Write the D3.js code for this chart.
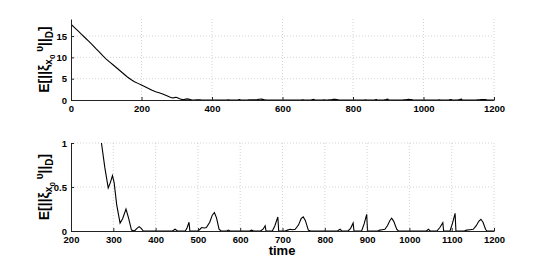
<!DOCTYPE html>
<html>
<head>
<meta charset="utf-8">
<script src="https://cdn.jsdelivr.net/npm/d3@7"></script>
<style>
  body { margin: 0; background: #fff; }
  svg { display: block; }
  .tick text { font-family: "Liberation Sans", Arial, sans-serif; font-weight: bold; font-size: 9.5px; fill: #000; }
  .grid line { stroke: #c8c8c8; stroke-width: 0.8; stroke-dasharray: 1,2; }
  .axis path, .axis line { stroke: #222; }
  .lbl { font-family: "Liberation Sans", Arial, sans-serif; font-weight: bold; fill: #000; }
</style>
</head>
<body>
<svg id="chart" width="545" height="261"></svg>
<script>
// time samples and expected norm values
var time = [0, 10, 20, 30, 40, 50, 60, 70, 80, 90, 100, 110, 120, 130, 140, 150, 160, 170, 180, 190,
  200, 210, 220, 230, 240, 250, 260, 265, 272, 280, 288, 293, 298, 302, 308, 316, 322, 330, 336, 343,
  350, 356, 361, 366, 371, 440, 446, 452, 470, 474, 479, 481, 500, 505, 509, 515, 520, 528, 534, 539,
  544, 550, 555, 568, 572, 576, 622, 627, 632, 648, 654, 659, 661, 676, 682, 689, 691, 706, 712, 718,
  724, 730, 738, 744, 749, 754, 761, 766, 830, 836, 840, 855, 861, 867, 869, 887, 893, 899, 901, 925,
  930, 936, 942, 948, 954, 958, 963, 970, 974, 1040, 1045, 1049, 1065, 1072, 1079, 1081, 1096, 1102, 1108, 1110,
  1130, 1135, 1143, 1151, 1158, 1164, 1169, 1174, 1180, 1183, 1200];
var value = [17.8, 17.0, 16.2, 15.4, 14.6, 13.8, 13.0, 12.1, 11.3, 10.4, 9.6, 8.9, 8.2, 7.5, 6.8, 6.1, 5.4, 4.8, 4.3, 3.9,
  3.5, 3.1, 2.7, 2.3, 1.95, 1.7, 1.4, 1.25, 1.0, 0.72, 0.49, 0.55, 0.63, 0.55, 0.3, 0.09, 0.14, 0.25, 0.15, 0.01,
  0.0, 0.03, 0.05, 0.03, 0.0, 0.0, 0.02, 0.0, 0.0, 0.03, 0.1, 0.0, 0.0, 0.02, 0.04, 0.035, 0.04, 0.1, 0.18, 0.21,
  0.15, 0.02, 0.0, 0.0, 0.01, 0.0, 0.0, 0.01, 0.0, 0.0, 0.02, 0.06, 0.0, 0.0, 0.06, 0.16, 0.0, 0.0, 0.01, 0.02,
  0.015, 0.02, 0.07, 0.14, 0.16, 0.12, 0.01, 0.0, 0.0, 0.02, 0.0, 0.0, 0.03, 0.09, 0.0, 0.0, 0.08, 0.19, 0.0, 0.0,
  0.01, 0.015, 0.02, 0.06, 0.12, 0.145, 0.11, 0.02, 0.0, 0.0, 0.02, 0.0, 0.0, 0.04, 0.095, 0.0, 0.0, 0.09, 0.2, 0.0,
  0.0, 0.01, 0.015, 0.02, 0.06, 0.11, 0.133, 0.1, 0.02, 0.0, 0.0];

var topXTicks = [0, 200, 400, 600, 800, 1000, 1200];
var topYTicks = [0, 5, 10, 15];
var botXTicks = [200, 300, 400, 500, 600, 700, 800, 900, 1000, 1100, 1200];
var botYTicks = [0, 0.5, 1];

var data = time.map(function(t, i) { return {t: t, v: value[i]}; });
var svg = d3.select("svg#chart");

function panel(opts) {
  var g = svg.append("g");
  var x = d3.scaleLinear().domain(opts.xDomain).range([71, 494]);
  var y = d3.scaleLinear().domain(opts.yDomain).range([opts.bottom, opts.top]);

  // dotted grid
  g.append("g").attr("class", "grid")
    .selectAll("line").data(opts.xTicks.slice(1)).enter().append("line")
      .attr("x1", function(d) { return x(d); }).attr("x2", function(d) { return x(d); })
      .attr("y1", opts.top).attr("y2", opts.bottom);
  g.append("g").attr("class", "grid")
    .selectAll("line").data(opts.yTicks.slice(1)).enter().append("line")
      .attr("x1", 71).attr("x2", 494)
      .attr("y1", function(d) { return y(d); }).attr("y2", function(d) { return y(d); });

  var clipId = "clip" + opts.id;
  svg.append("clipPath").attr("id", clipId).append("rect")
    .attr("x", 71).attr("y", opts.top).attr("width", 423).attr("height", opts.bottom - opts.top);

  var line = d3.line().x(function(d) { return x(d.t); }).y(function(d) { return y(d.v); });
  g.append("path")
    .datum(data.filter(function(d) { return d.t >= opts.xDomain[0]; }))
    .attr("clip-path", "url(#" + clipId + ")")
    .attr("fill", "none").attr("stroke", "#000").attr("stroke-width", 1.1)
    .attr("d", line);

  g.append("g").attr("class", "axis")
    .attr("transform", "translate(0," + opts.bottom + ")")
    .call(d3.axisBottom(x).tickValues(opts.xTicks).tickFormat(d3.format("d")).tickSizeInner(-3).tickSizeOuter(0).tickPadding(3))
    .call(function(a) { a.selectAll(".tick text").attr("dy", "0.9em"); });

  g.append("g").attr("class", "axis")
    .attr("transform", "translate(71,0)")
    .call(d3.axisLeft(y).tickValues(opts.yTicks).tickFormat(d3.format("~g")).tickSizeInner(-3).tickSizeOuter(0).tickPadding(4));

  var lbl = g.append("text").attr("class", "lbl")
    .attr("text-anchor", "middle")
    .attr("font-size", 14)
    .attr("transform", "translate(49," + ((opts.top + opts.bottom) / 2) + ") rotate(-90)");
  lbl.append("tspan").text("E[||ξ");
  lbl.append("tspan").attr("font-size", 10).attr("dy", 3).text("x");
  lbl.append("tspan").attr("font-size", 8).attr("dy", 3).text("0");
  lbl.append("tspan").attr("font-size", 10).attr("dy", -12).text(" υ");
  lbl.append("tspan").attr("dy", 6).text("||");
  lbl.append("tspan").attr("font-size", 10).attr("dy", 4).text("D");
  lbl.append("tspan").attr("dy", -4).text("]");
}

panel({id: 1, xDomain: [0, 1200], yDomain: [0, 19], top: 19, bottom: 100, xTicks: topXTicks, yTicks: topYTicks});
panel({id: 2, xDomain: [200, 1200], yDomain: [0, 1], top: 143, bottom: 231, xTicks: botXTicks, yTicks: botYTicks});

svg.append("text").attr("class", "lbl")
  .attr("x", 282).attr("y", 254.5)
  .attr("text-anchor", "middle").attr("font-size", 13)
  .text("time");
</script>
</body>
</html>
